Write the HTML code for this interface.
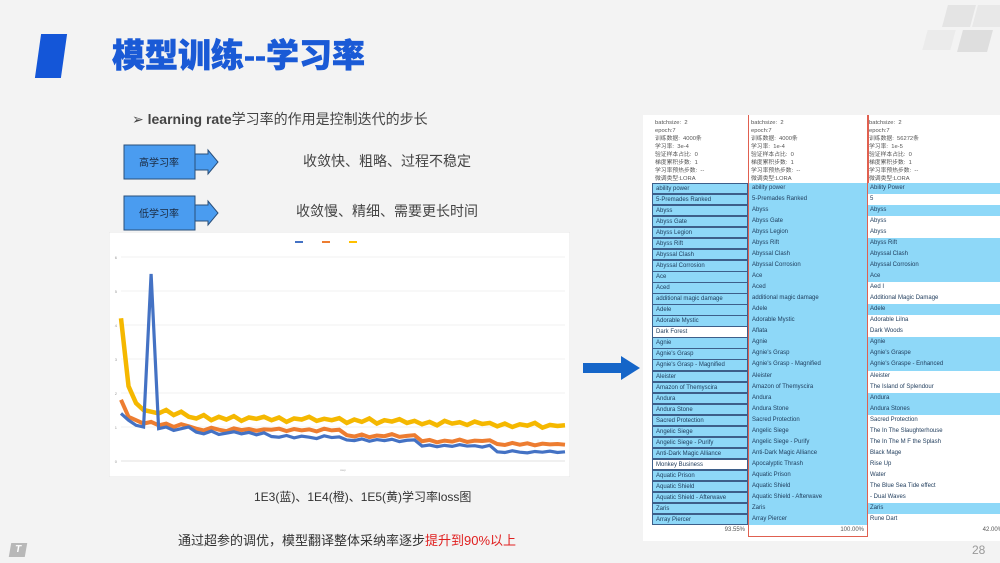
<!DOCTYPE html>
<html><head><meta charset="utf-8">
<style>
*{margin:0;padding:0;box-sizing:border-box}
body{width:1000px;height:563px;background:#f3f3f3;position:relative;overflow:hidden;font-family:"Liberation Sans","Noto Sans CJK SC",sans-serif}
.abs{position:absolute}
.tbl{position:absolute;left:643px;top:115px;width:365px;height:426px;background:#fff}
.cell{position:absolute;height:11.3px;font-size:6px;line-height:11px;color:#1d3a5a;padding-left:3px;white-space:nowrap;overflow:hidden}
.hdr{position:absolute;font-size:5.8px;line-height:8px;color:#555;white-space:pre}
</style></head><body>
<div class="abs" style="left:905px;top:0;width:95px;height:60px">
<div class="abs" style="left:40px;top:5px;width:28px;height:22px;background:#e4e4e4;transform:skewX(-15deg)"></div>
<div class="abs" style="left:70px;top:5px;width:28px;height:22px;background:#e8e8e8;transform:skewX(-15deg)"></div>
<div class="abs" style="left:55px;top:30px;width:30px;height:22px;background:#dedede;transform:skewX(-15deg)"></div>
<div class="abs" style="left:20px;top:30px;width:28px;height:20px;background:#ebebeb;transform:skewX(-15deg)"></div>
</div>
<div class="abs" style="left:38px;top:34px;width:26px;height:44px;background:#1456d8;transform:skewX(-8deg)"></div>
<div class="abs" style="left:112px;top:35px;font-size:33px;font-weight:900;color:#1a5ad6;line-height:42px;-webkit-text-stroke:0.6px #1a5ad6">模型训练--学习率</div>
<div class="abs" style="left:132px;top:109px;font-size:14px;color:#444;line-height:20px">➢ <b>learning rate</b>学习率的作用是控制迭代的步长</div>

<svg class="abs" style="left:120px;top:142px" width="105" height="92">
<g><rect x="4" y="3" width="71" height="34" fill="#4a9cf0" stroke="#2a4f7a"/><polygon points="75,12 88,12 88,8 98,20 88,32 88,28 75,28" fill="#4a9cf0" stroke="#2a4f7a"/>
<text x="39" y="24" font-size="10" text-anchor="middle" fill="#1a2a40" font-family="Liberation Sans,Noto Sans CJK SC,sans-serif">高学习率</text></g>
<g><rect x="4" y="54" width="71" height="34" fill="#4a9cf0" stroke="#2a4f7a"/><polygon points="75,63 88,63 88,59 98,71 88,83 88,79 75,79" fill="#4a9cf0" stroke="#2a4f7a"/>
<text x="39" y="75" font-size="10" text-anchor="middle" fill="#1a2a40" font-family="Liberation Sans,Noto Sans CJK SC,sans-serif">低学习率</text></g>
</svg>
<div class="abs" style="left:303px;top:151px;font-size:14px;color:#444">收敛快、粗略、过程不稳定</div>
<div class="abs" style="left:296px;top:201px;font-size:14px;color:#444">收敛慢、精细、需要更长时间</div>

<svg id="chart" class="abs" style="left:109px;top:232px" width="461" height="245"></svg>
<div class="abs" style="left:254px;top:488px;font-size:12px;color:#333">1E3(蓝)、1E4(橙)、1E5(黄)学习率loss图</div>
<div class="abs" style="left:178px;top:530px;font-size:13px;color:#333">通过超参的调优，模型翻译整体采纳率逐步<span style="color:#e02020">提升到90%以上</span></div>

<svg class="abs" style="left:583px;top:355px" width="60" height="26"><polygon points="0,8 38,8 38,1 57,13 38,25 38,18 0,18" fill="#1565c8"/></svg>

<div class="tbl" id="tbl"></div>

<div class="abs" style="left:10px;top:543px;width:16px;height:14px;background:#b8b8b8;color:#fff;font-size:10px;font-weight:bold;text-align:center;line-height:14px;transform:skewX(-10deg)">T</div>
<div class="abs" style="left:972px;top:543px;font-size:12px;color:#999">28</div>

<script>
const blue=[1.4,1.2,1.05,1.0,5.5,0.95,1.0,0.9,0.95,1.0,0.85,0.8,0.88,0.78,0.82,0.86,0.8,0.84,0.77,0.83,0.72,0.7,0.75,0.68,0.73,0.7,0.66,0.74,0.69,0.71,0.62,0.6,0.65,0.58,0.63,0.6,0.64,0.57,0.61,0.62,0.44,0.47,0.42,0.46,0.43,0.48,0.44,0.45,0.41,0.46,0.27,0.25,0.3,0.26,0.24,0.28,0.26,0.29,0.25,0.27];
const orange=[1.8,1.3,1.2,1.1,1.15,1.05,1.1,1.0,1.08,1.02,0.95,0.9,0.98,0.92,0.88,0.96,0.91,0.94,0.89,0.93,0.92,0.95,0.88,0.94,0.9,0.93,0.87,0.95,0.9,0.92,0.76,0.72,0.78,0.7,0.75,0.73,0.79,0.71,0.74,0.76,0.58,0.62,0.55,0.6,0.57,0.63,0.56,0.6,0.59,0.61,0.5,0.47,0.53,0.48,0.52,0.46,0.51,0.49,0.5,0.48];
const yellow=[4.2,2.2,1.7,1.5,1.45,1.4,1.5,1.35,1.45,1.3,1.25,1.35,1.2,1.3,1.22,1.32,1.18,1.28,1.24,1.3,1.2,1.28,1.15,1.25,1.22,1.3,1.18,1.24,1.2,1.26,1.12,1.22,1.15,1.25,1.1,1.2,1.16,1.23,1.12,1.18,1.08,1.15,1.05,1.18,1.1,1.14,1.06,1.16,1.09,1.12,1.02,1.1,1.0,1.08,1.04,1.12,0.98,1.06,1.03,1.05];
const yTicks=[0,1,2,3,4,5,6];
const NS='http://www.w3.org/2000/svg';
const svg=document.getElementById('chart');
function mk(t,a){const e=document.createElementNS(NS,t);for(const k in a)e.setAttribute(k,a[k]);svg.appendChild(e);return e;}
const X0=12,X1=456,Y0=229,YS=34;
const xs=i=>X0+i*(X1-X0)/(blue.length-1);
const ys=v=>Y0-v*YS;
let bg=mk('rect',{x:0,y:0,width:461,height:245,fill:'#fff',stroke:'#e6e6e6'});


yTicks.forEach(t=>{
 const l=mk('line',{x1:X0,x2:X1,y1:ys(t),y2:ys(t),stroke:t?'#eeeeee':'#d8d8d8','stroke-width':0.8});
 
 
 const tx=mk('text',{x:X0-4,y:ys(t)+2,'font-size':4,fill:'#999','text-anchor':'end'});tx.textContent=t;
 
 
});
[[yellow,'#f5b800','yellow-series',4.5],[orange,'#ed7d31','orange-series',4],[blue,'#4472c4','blue-series',3.2]].forEach(s=>{
 const p=mk('polyline',{points:s[0].map((v,i)=>xs(i)+','+ys(v)).join(' '),fill:'none',stroke:s[1],'stroke-width':s[3],'stroke-linejoin':'miter','stroke-miterlimit':2});
 
 
});
[['#4472c4',186],['#ed7d31',213],['#ffc000',240]].forEach(l=>{
 const r=mk('rect',{x:l[1],y:9,width:8,height:2,fill:l[0]});
 
 
});
const xl=mk('text',{x:234,y:239,'font-size':3,fill:'#aaa','text-anchor':'middle'});xl.textContent='step';



const col1=["ability power","5-Premades Ranked","Abyss","Abyss Gate","Abyss Legion","Abyss Rift","Abyssal Clash","Abyssal Corrosion","Ace","Aced","additional magic damage","Adele","Adorable Mystic","Dark Forest","Agnie","Agnie's Grasp","Agnie's Grasp - Magnified","Aleister","Amazon of Themyscira","Andura","Andura Stone","Sacred Protection","Angelic Siege","Angelic Siege - Purify","Anti-Dark Magic Alliance","Monkey Business","Aquatic Prison","Aquatic Shield","Aquatic Shield - Afterwave","Zaris","Array Piercer"];
const col3=["Ability Power","5","Abyss","Abyss","Abyss","Abyss Rift","Abyssal Clash","Abyssal Corrosion","Ace","Aed I","Additional Magic Damage","Adele","Adorable Lilna","Dark Woods","Agnie","Agnie's Graspe","Agnie's Graspe - Enhanced","Aleister","The Island of Splendour","Andura","Andura Stones","Sacred Protection","The In The Slaughterhouse","The In The M F the Splash","Black Mage","Rise Up","Water","The Blue Sea Tide effect","- Dual Waves","Zaris","Rune Dart"];
const col3blue=[1,0,1,0,0,1,1,1,1,0,0,1,0,0,1,1,1,0,0,1,1,0,0,0,0,0,0,0,0,1,0];
const tbl=document.getElementById('tbl');
function cell(l,t,w,txt,bgc,extra){const d=document.createElement('div');d.className='cell';d.style.cssText=`left:${l}px;top:${t}px;width:${w}px;background:${bgc};`+(extra||'');d.textContent=txt;tbl.appendChild(d);return d;}
const hdrs=["batchsize:  2\nepoch:7\n训练数据:  4000条\n学习率:  3e-4\n验证样本占比:  0\n梯度累积步数:  1\n学习率预热步数:  --\n微调类型:LORA","batchsize:  2\nepoch:7\n训练数据:  4000条\n学习率:  1e-4\n验证样本占比:  0\n梯度累积步数:  1\n学习率预热步数:  --\n微调类型:LORA","batchsize:  2\nepoch:7\n训练数据:  56272条\n学习率:  1e-5\n验证样本占比:  0\n梯度累积步数:  1\n学习率预热步数:  --\n微调类型:LORA"];
[[12,0],[108,1],[226,2]].forEach(h=>{const d=document.createElement('div');d.className='hdr';d.style.left=h[0]+'px';d.style.top='4px';d.textContent=hdrs[h[1]];


tbl.appendChild(d);});
col1.forEach((t,i)=>{
 const y=68+i*11.03;
 const a=cell(9,y,96,t,(i==13||i==25)?'#fff':'#8ed8f8','border:1px solid #3d5f8a;');
 
 
 let t2=i==13?'Aflata':i==25?'Apocalyptic Thrash':t;
 const b=cell(106,y,118,t2,'#8ed8f8');
 
 
 const c=cell(224,y,139,col3[i],col3blue[i]?'#8ed8f8':'#fff');
 
 
});
const fy=68+31*11.03;
[[9,96,'93.55%'],[106,118,'100.00%'],[224,139,'42.00%']].forEach(f=>{const d=cell(f[0],fy,f[1],f[2],'#fff','text-align:right;padding-right:3px;color:#555;');

});
const box=document.createElement('div');box.style.cssText='position:absolute;left:105px;top:0;width:120px;height:422px;border:1.5px solid #e06050;border-top:none;';


tbl.appendChild(box);
const ln=document.createElement('div');ln.style.cssText='position:absolute;left:224px;top:0;width:1.5px;height:68px;background:#e06050;';


tbl.appendChild(ln);
</script>
</body></html>
